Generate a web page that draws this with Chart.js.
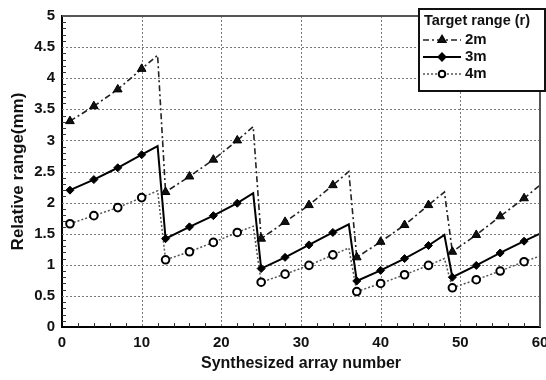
<!DOCTYPE html>
<html>
<head>
<meta charset="utf-8">
<script src="https://cdn.jsdelivr.net/npm/chart.js@4/dist/chart.umd.min.js"></script>
<style>
    html, body { margin: 0; padding: 0; background: #fff; }
    #wrap { width: 546px; height: 380px; }
</style>
</head>
<body>
<div id="wrap"><canvas id="rangeChart" width="546" height="380"></canvas></div>
<script>
// synthesized array numbers (markers every 3rd array, plus the last array of each group)
const arrayNumbers = [1, 4, 7, 10, 12, 13, 16, 19, 22, 24, 25, 28, 31, 34, 36, 37, 40, 43, 46, 48, 49, 52, 55, 58, 60];
const groupEnds = [12, 24, 36, 48, 60];

// relative range (mm) per target range
const range2m = [3.31, 3.55, 3.82, 4.15, 4.37, 2.17, 2.42, 2.69, 3.00, 3.22, 1.42, 1.69, 1.96, 2.28, 2.50, 1.12, 1.37, 1.64, 1.96, 2.17, 1.21, 1.48, 1.78, 2.07, 2.28];
const range3m = [2.20, 2.37, 2.56, 2.77, 2.91, 1.42, 1.61, 1.79, 1.99, 2.15, 0.94, 1.12, 1.32, 1.52, 1.65, 0.74, 0.91, 1.10, 1.31, 1.48, 0.80, 0.99, 1.19, 1.38, 1.50];
const range4m = [1.66, 1.79, 1.92, 2.08, 2.19, 1.08, 1.21, 1.36, 1.52, 1.62, 0.72, 0.85, 0.99, 1.16, 1.27, 0.57, 0.70, 0.84, 0.99, 1.10, 0.63, 0.76, 0.90, 1.05, 1.14];

const seriesLabels = ["2m", "3m", "4m"];
const legendTitle = "Target range (r)";

const xTicks = [0, 10, 20, 30, 40, 50, 60];
const yTicks = [0, 0.5, 1, 1.5, 2, 2.5, 3, 3.5, 4, 4.5, 5];

const FONT = "'Liberation Sans', Arial, sans-serif";

function pts(values) {
    return arrayNumbers.map((x, i) => ({ x: x, y: values[i] }));
}

function radii(r) {
    return arrayNumbers.map(x => groupEnds.includes(x) ? 0 : r);
}

const styles = [
    { color: "#222", dash: [6, 3, 2, 3], width: 1.6, point: "triangle", r: 5, fill: "#111", pw: 1 },
    { color: "#000", dash: [], width: 2, point: "rectRot", r: 4, fill: "#000", pw: 1 },
    { color: "#555", dash: [2, 2], width: 1.5, point: "circle", r: 3.8, fill: "#fff", pw: 2 }
];

const datasets = [range2m, range3m, range4m].map((vals, i) => ({
    label: seriesLabels[i],
    data: pts(vals),
    borderColor: styles[i].color,
    borderDash: styles[i].dash,
    borderWidth: styles[i].width,
    pointStyle: styles[i].point,
    pointRadius: radii(styles[i].r),
    pointBackgroundColor: styles[i].fill,
    pointBorderColor: "#000",
    pointBorderWidth: styles[i].pw,
    tension: 0,
    fill: false
}));

// dotted grid drawn under the data
const gridPlugin = {
    id: "dottedGrid",
    beforeDatasetsDraw(chart) {
        const ctx = chart.ctx;
        const a = chart.chartArea;
        const xs = chart.scales.x;
        const ys = chart.scales.y;
        ctx.save();
        ctx.strokeStyle = "#777";
        ctx.lineWidth = 1;
        ctx.setLineDash([2, 2]);
        ctx.beginPath();
        xTicks.slice(1, -1).forEach(v => {
            const px = Math.round(xs.getPixelForValue(v)) + 0.5;
            ctx.moveTo(px, a.top);
            ctx.lineTo(px, a.bottom);
        });
        yTicks.slice(1, -1).forEach(v => {
            const py = Math.round(ys.getPixelForValue(v)) + 0.5;
            ctx.moveTo(a.left, py);
            ctx.lineTo(a.right, py);
        });
        ctx.stroke();
        ctx.restore();
    }
};

// inward minor ticks, top/right frame and the boxed legend
const framePlugin = {
    id: "frame",
    afterDraw(chart) {
        const ctx = chart.ctx;
        const a = chart.chartArea;
        const xs = chart.scales.x;
        const ys = chart.scales.y;
        ctx.save();
        ctx.strokeStyle = "#333";
        ctx.lineWidth = 1;
        ctx.setLineDash([]);
        ctx.beginPath();
        for (let v = 2; v < 60; v += 2) {
            if (v % 10 === 0) continue;
            const px = Math.round(xs.getPixelForValue(v)) + 0.5;
            ctx.moveTo(px, a.bottom);
            ctx.lineTo(px, a.bottom - 4);
        }
        for (let k = 1; k < 50; k++) {
            if (k % 5 === 0) continue;
            const py = Math.round(ys.getPixelForValue(k / 10)) + 0.5;
            ctx.moveTo(a.left, py);
            ctx.lineTo(a.left + 4, py);
        }
        ctx.stroke();

        // top and right frame lines
        ctx.strokeStyle = "#555";
        ctx.lineWidth = 2;
        ctx.beginPath();
        ctx.moveTo(a.left, a.top);
        ctx.lineTo(a.right, a.top);
        ctx.lineTo(a.right, a.bottom);
        ctx.stroke();

        // legend box
        const bx = 419, by = 9, bw = 126, bh = 82;
        ctx.fillStyle = "#fff";
        ctx.fillRect(bx, by, bw, bh);
        ctx.strokeStyle = "#111";
        ctx.lineWidth = 2;
        ctx.strokeRect(bx, by, bw, bh);

        ctx.fillStyle = "#111";
        ctx.textBaseline = "middle";
        ctx.textAlign = "left";
        ctx.font = "bold 14.5px " + FONT;
        ctx.fillText(legendTitle, bx + 5, by + 12);

        const rowY = [40, 57, 74];
        ctx.font = "bold 15px " + FONT;
        chart.data.datasets.forEach((ds, i) => {
            const st = styles[i];
            const y = rowY[i];
            ctx.strokeStyle = st.color;
            ctx.lineWidth = st.width;
            ctx.setLineDash(st.dash);
            ctx.beginPath();
            ctx.moveTo(bx + 4, y);
            ctx.lineTo(bx + 42, y);
            ctx.stroke();
            ctx.setLineDash([]);
            Chart.helpers.drawPoint(ctx, {
                pointStyle: st.point,
                radius: st.r - 0.5,
                borderWidth: st.pw,
                rotation: 0
            }, bx + 23, y);
            ctx.fillStyle = st.fill;
            ctx.strokeStyle = "#000";
            ctx.lineWidth = st.pw;
            ctx.fill();
            ctx.stroke();
            ctx.fillStyle = "#111";
            ctx.fillText(ds.label, bx + 46, y);
        });
        ctx.restore();
    }
};

window.onload = function () {
    const ctx = document.getElementById("rangeChart").getContext("2d");
    new Chart(ctx, {
        type: "line",
        data: { datasets: datasets },
        options: {
            responsive: false,
            animation: false,
            events: [],
            layout: { padding: { top: 10, right: 6, left: 0, bottom: 0 } },
            plugins: {
                legend: { display: false },
                tooltip: { enabled: false }
            },
            scales: {
                x: {
                    type: "linear",
                    min: 0,
                    max: 60,
                    afterBuildTicks(scale) {
                        scale.ticks = xTicks.map(v => ({ value: v }));
                    },
                    afterFit(scale) {
                        scale.height = 53;
                        scale.paddingLeft = 0;
                        scale.paddingRight = 0;
                    },
                    grid: { display: false, drawTicks: false },
                    border: { display: true, color: "#000", width: 2 },
                    ticks: {
                        padding: 7,
                        color: "#111",
                        font: { family: FONT, size: 15, weight: "bold" },
                        maxRotation: 0,
                        callback: v => String(v)
                    },
                    title: {
                        display: true,
                        text: "Synthesized array number",
                        color: "#111",
                        font: { family: FONT, size: 16, weight: "bold" },
                        padding: { top: 0, bottom: 7 }
                    }
                },
                y: {
                    type: "linear",
                    min: 0,
                    max: 5,
                    afterBuildTicks(scale) {
                        scale.ticks = yTicks.map(v => ({ value: v }));
                    },
                    afterFit(scale) {
                        scale.width = 62;
                    },
                    grid: { display: false, drawTicks: false },
                    border: { display: true, color: "#000", width: 2 },
                    ticks: {
                        padding: 7,
                        color: "#111",
                        font: { family: FONT, size: 15, weight: "bold" },
                        callback: v => String(v)
                    },
                    title: {
                        display: true,
                        text: "Relative range(mm)",
                        color: "#111",
                        font: { family: FONT, size: 17, weight: "bold" },
                        padding: { top: 8, bottom: 0 }
                    }
                }
            }
        },
        plugins: [gridPlugin, framePlugin]
    });
};
</script>
</body>
</html>
